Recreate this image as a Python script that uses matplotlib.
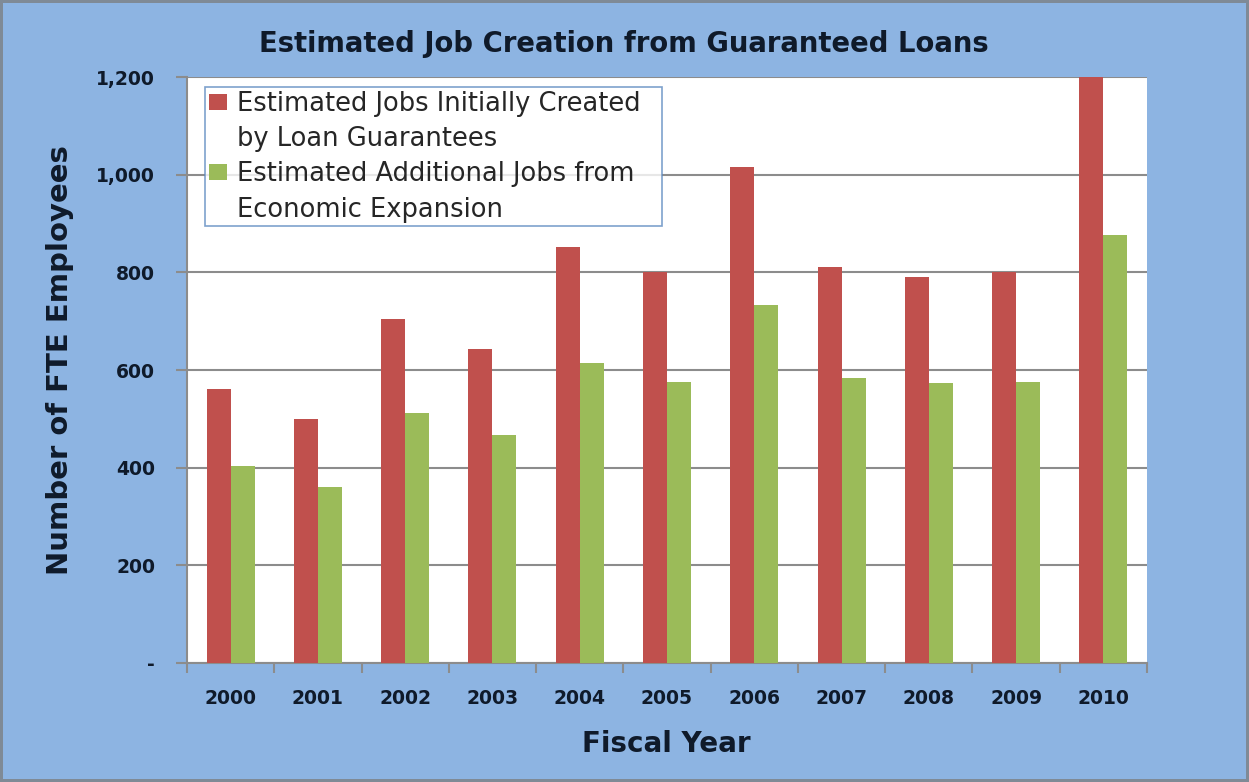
import numpy as np
import matplotlib
matplotlib.use("Agg")
from matplotlib import pyplot as plt
from matplotlib.patches import Patch
from matplotlib.ticker import FixedLocator, FuncFormatter

plt.rcParams['font.family'] = ['DejaVu Sans']

years = ['2000', '2001', '2002', '2003', '2004', '2005',
         '2006', '2007', '2008', '2009', '2010']
initial_jobs = [561, 500, 704, 643, 852, 800, 1016, 811, 790, 801, 1200]
additional_jobs = [403, 360, 512, 467, 614, 575, 733, 584, 573, 576, 876]
legend_lines = ['Estimated Jobs Initially Created', 'by Loan Guarantees',
                'Estimated Additional Jobs from', 'Economic Expansion']

red = '#C0504D'
green = '#9BBB59'
bg = '#8DB4E2'
grid_col = '#8C8C8C'
text_col = '#0F1A2A'

fig = plt.figure(figsize=(12.49, 7.82), dpi=100)
fig.patch.set_facecolor(bg)
fig.patch.set_edgecolor('#7F8A96')
fig.patch.set_linewidth(3)

ax = fig.add_axes([187/1249, 119/782, 960/1249, 586/782])
ax.set_facecolor('white')

x = np.arange(len(years))
w = 0.275
ax.bar(x - w/2, initial_jobs, w, color=red, zorder=3)
ax.bar(x + w/2, additional_jobs, w, color=green, zorder=3)

ax.set_xlim(-0.5, len(years) - 0.5)
ax.set_ylim(0, 1200)
ax.set_yticks(np.arange(0, 1201, 200))
ax.yaxis.set_major_formatter(FuncFormatter(lambda v, p: '-' if v == 0 else f'{int(v):,}'))
ax.grid(axis='y', color=grid_col, linewidth=1.5, zorder=0)

# x tick marks between categories, labels centred
ax.set_xticks(x)
ax.set_xticklabels(years)
ax.xaxis.set_minor_locator(FixedLocator(np.arange(-0.5, len(years), 1.0)))
ax.tick_params(axis='x', which='major', length=0, pad=19)
ax.tick_params(axis='x', which='minor', length=7, width=1.5, color=grid_col, direction='out')
ax.tick_params(axis='y', length=8, width=1.5, color=grid_col, direction='out', pad=15)

for lab in ax.get_xticklabels() + ax.get_yticklabels():
    lab.set_fontsize(13.5)
    lab.set_fontweight('bold')
    lab.set_color(text_col)

for s in ['top', 'right']:
    ax.spines[s].set_visible(False)
for s in ['left', 'bottom']:
    ax.spines[s].set_color(grid_col)
    ax.spines[s].set_linewidth(1.5)

fig.text(624/1249, 1 - 44/782, 'Estimated Job Creation from Guaranteed Loans',
         ha='center', va='center', fontsize=19.8, fontweight='bold', color=text_col)
fig.text(60/1249, 1 - 360/782, 'Number of FTE Employees', rotation=90,
         ha='center', va='center', fontsize=21, fontweight='bold', color=text_col)
fig.text(666/1249, 1 - 744/782, 'Fiscal Year',
         ha='center', va='center', fontsize=20, fontweight='bold', color=text_col)

# legend: one row per text line, swatch only on the first line of each entry
handles = [Patch(facecolor=red), Patch(facecolor='none', edgecolor='none'),
           Patch(facecolor=green), Patch(facecolor='none', edgecolor='none')]
leg = ax.legend(handles, legend_lines, loc='upper left', mode='expand',
                bbox_to_anchor=(205/1249, 1 - 226/782, 457/1249, 139/782),
                bbox_transform=fig.transFigure, fontsize=18.5, frameon=True,
                fancybox=False, borderaxespad=0, handlelength=0.72, handleheight=0.6,
                handletextpad=0.36, labelspacing=0.36, borderpad=0.15)
leg.get_frame().set_edgecolor('#5E8AC0')
leg.get_frame().set_linewidth(1.2)
for t in leg.get_texts():
    t.set_color('#262626')

fig.savefig('out.png', dpi=100, facecolor=fig.get_facecolor(), edgecolor=fig.get_edgecolor())
